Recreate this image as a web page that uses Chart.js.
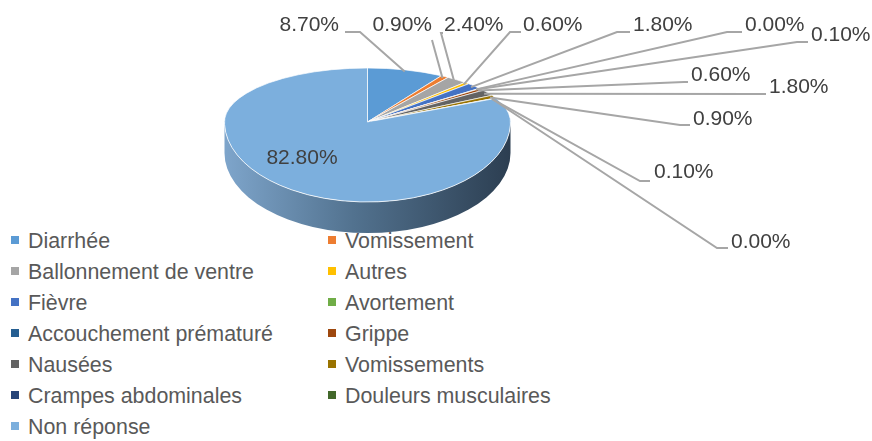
<!DOCTYPE html>
<html>
<head>
<meta charset="utf-8">
<script src="https://cdn.jsdelivr.net/npm/chart.js@4.4.0/dist/chart.umd.min.js"></script>
<style>
  html, body { margin: 0; padding: 0; background: #fff; }
  #wrap { position: relative; width: 872px; height: 441px; overflow: hidden; }
  #legend { position: absolute; left: 0; top: 0; width: 872px; height: 441px;
            font-family: "Liberation Sans", Arial, sans-serif; font-size: 21.4px; color: #595959; }
  .item { position: absolute; white-space: nowrap; line-height: 24px; }
  .item i { display: inline-block; width: 8px; height: 8px; margin-right: 9px;
            vertical-align: middle; position: relative; top: -2px; }
  canvas { position: absolute; left: 0; top: 0; }
</style>
</head>
<body>
<div id="wrap">
  <div id="legend"></div>
  <canvas id="canvas" width="872" height="441"></canvas>
</div>
<script>
const categories = ["Diarrhée", "Vomissement", "Ballonnement de ventre", "Autres", "Fièvre",
  "Avortement", "Accouchement prématuré", "Grippe", "Nausées", "Vomissements",
  "Crampes abdominales", "Douleurs musculaires", "Non réponse"];
const percents = [8.7, 0.9, 2.4, 0.6, 1.8, 0.0, 0.1, 0.6, 1.8, 0.9, 0.1, 0.0, 82.8];
const colors = ["#5b9bd5", "#ed7d31", "#a5a5a5", "#ffc000", "#4472c4", "#70ad47",
  "#255e91", "#9e480e", "#636363", "#997300", "#264478", "#43682b", "#7cafdd"];

// label layout: leader elbow, end of the short horizontal stroke, text anchor
const elbows = [[360,32],[432,40],[441,33],[510,32],[617,32],[727,32],[797,42],
  [684,82],[762,94],[680,125],[640,181],[717,248],null];
const strokeEnds = [345,432,443,521,630,742,808,688,766,690,650,728,null];
const textX = [339,432,444,523,633,745,811,691,769,693,654,731,302];
const textY = [25,25,25,25,25,25,35,75,87,119,172,242,158];
const textAlign = ["right","right","left","left","left","left","left","left","left","left","left","left","center"];

// 3D look (screen px)
const APEX_Y = 122, BACK_Y = 68, FRONT_Y = 202, DEPTH = 31;

// legend, two columns
const legendEl = document.getElementById('legend');
categories.forEach((name, i) => {
  const d = document.createElement('div');
  d.className = 'item';
  d.style.left = (i % 2 ? 328 : 11) + 'px';
  d.style.top = (241 + Math.floor(i / 2) * 31 - 12) + 'px';
  d.innerHTML = `<i style="background:${colors[i]}"></i>${name}`;
  legendEl.appendChild(d);
});

const pie3d = {
  id: 'pie3d',
  beforeDatasetsDraw(chart) {
    const ctx = chart.ctx;
    const meta = chart.getDatasetMeta(0);
    const {x: cx, y: cy, outerRadius: r} = meta.data[0];
    const kTop = (APEX_Y - BACK_Y) / r, kBot = (FRONT_Y - APEX_Y) / r;

    // side wall
    ctx.save();
    const g = ctx.createLinearGradient(cx - r, 0, cx + r, 0);
    g.addColorStop(0, '#7ea5cb');
    g.addColorStop(0.45, '#52728f');
    g.addColorStop(1, '#2c3e51');
    ctx.beginPath();
    ctx.moveTo(cx - r, APEX_Y);
    ctx.lineTo(cx - r, APEX_Y + DEPTH);
    ctx.ellipse(cx, APEX_Y + DEPTH, r, r * kBot, 0, Math.PI, 0, true);
    ctx.lineTo(cx + r, APEX_Y);
    ctx.ellipse(cx, APEX_Y, r, r * kBot, 0, 0, Math.PI, false);
    ctx.closePath();
    ctx.fillStyle = g;
    ctx.fill();
    ctx.restore();

    // top face, back half and front half squashed differently
    [[0, APEX_Y + 0.5, kTop], [APEX_Y - 0.5, chart.height, kBot]].forEach(([y0, y1, k]) => {
      ctx.save();
      ctx.beginPath();
      ctx.rect(0, y0, chart.width, y1 - y0);
      ctx.clip();
      ctx.translate(0, APEX_Y);
      ctx.scale(1, k);
      ctx.translate(0, -cy);
      meta.data.forEach(a => a.draw(ctx));
      ctx.restore();
    });
    return false;
  },
  afterDraw(chart) {
    const ctx = chart.ctx;
    const meta = chart.getDatasetMeta(0);
    const {x: cx, y: cy, outerRadius: r} = meta.data[0];
    const kTop = (APEX_Y - BACK_Y) / r, kBot = (FRONT_Y - APEX_Y) / r;
    ctx.save();
    ctx.strokeStyle = '#a6a6a6';
    ctx.lineWidth = 2;
    meta.data.forEach((arc, i) => {
      if (!elbows[i]) return;
      const mid = (arc.startAngle + arc.endAngle) / 2;
      const y = cy + Math.sin(mid) * r * 0.97;
      const px = cx + Math.cos(mid) * r * 0.97;
      const py = APEX_Y + (y - cy) * (y < cy ? kTop : kBot);
      ctx.beginPath();
      ctx.moveTo(px, py);
      ctx.lineTo(elbows[i][0], elbows[i][1]);
      ctx.lineTo(strokeEnds[i], elbows[i][1]);
      ctx.stroke();
    });
    ctx.fillStyle = '#404040';
    ctx.font = '21px "Liberation Sans", Arial, sans-serif';
    ctx.textBaseline = 'middle';
    percents.forEach((v, i) => {
      ctx.textAlign = textAlign[i];
      ctx.fillText(v.toFixed(2) + '%', textX[i], textY[i]);
    });
    ctx.restore();
  }
};

new Chart(document.getElementById('canvas').getContext('2d'), {
  type: 'pie',
  data: {
    labels: categories,
    datasets: [{
      data: percents,
      backgroundColor: colors,
      borderColor: '#ffffff',
      borderWidth: 1
    }]
  },
  options: {
    responsive: false,
    animation: false,
    layout: { padding: { left: 224, right: 361, top: 0, bottom: 154 } },
    plugins: { legend: { display: false }, tooltip: { enabled: false } }
  },
  plugins: [pie3d]
});
</script>
</body>
</html>
